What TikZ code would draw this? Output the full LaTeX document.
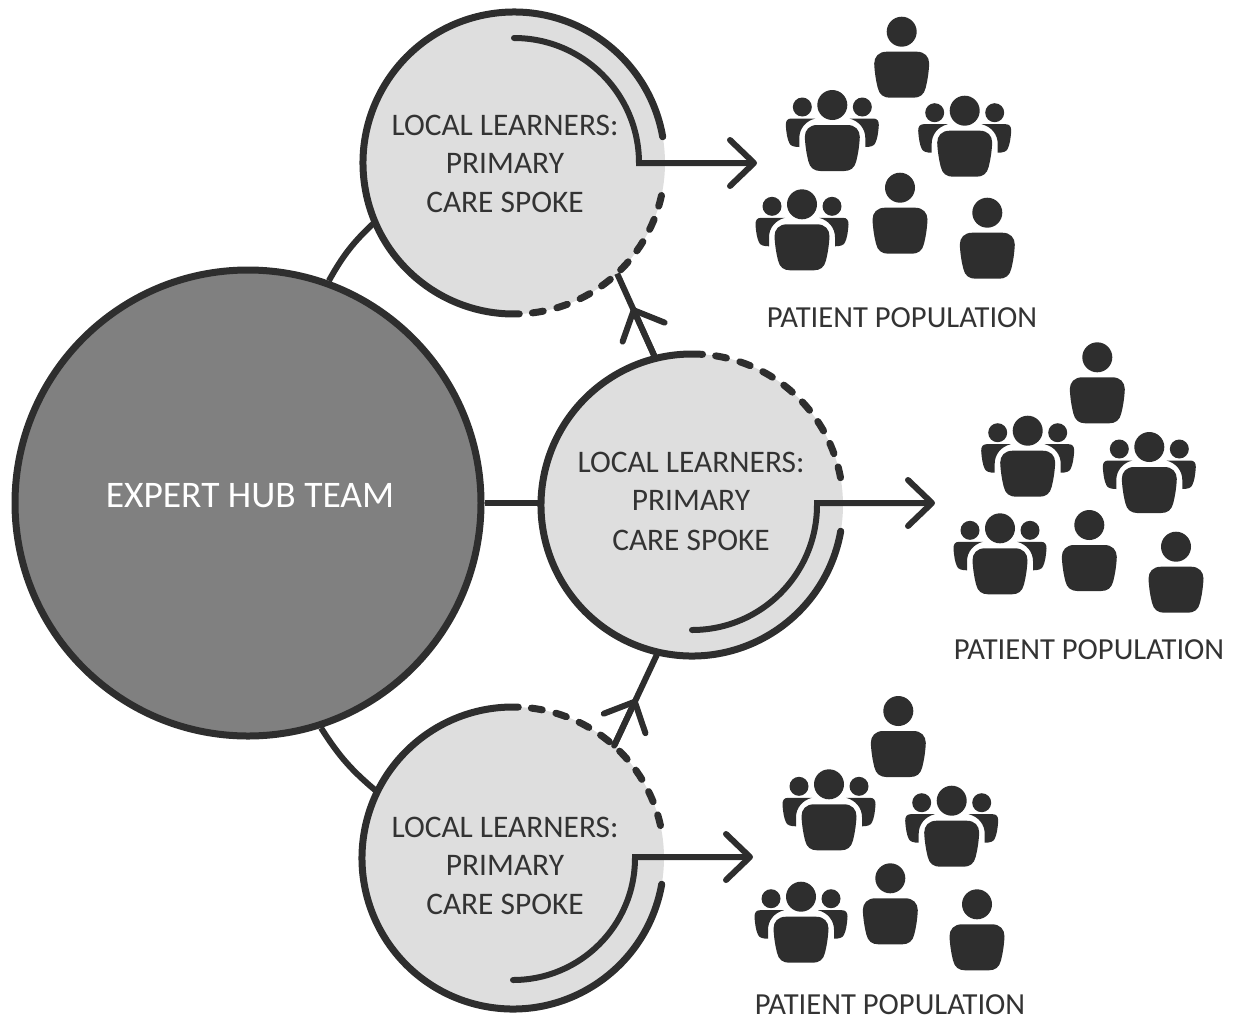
\documentclass[tikz,border=0pt]{standalone}
\usepackage{fontspec}
\setmainfont{Carlito}
\usetikzlibrary{arrows.meta,calc}
\definecolor{ink}{HTML}{2E2E2E}
\definecolor{spokefill}{HTML}{DEDEDE}
\definecolor{hubfill}{HTML}{808080}
\definecolor{labelink}{HTML}{333333}
\tikzset{
  x=1pt,y=-1pt,
  hubbox/.style={circle,draw=ink,line width=7pt,fill=hubfill,inner sep=0pt,minimum size=466pt},
  spokebox/.style={circle,fill=spokefill,inner sep=0pt,minimum size=302pt},
  ring/.style={draw=ink,line width=7pt,line cap=round},
  ringdash/.style={ring,dash pattern=on 11pt off 14pt},
  link/.style={draw=ink,line width=6pt},
  barb/.style={draw=ink,line width=6pt,line cap=round,-{Straight Barb[length=24pt,width=46pt,round]}},
  spoketext/.style={font=\fontsize{31.4}{36}\selectfont,text=labelink,inner sep=0pt},
  poptext/.style={font=\fontsize{30.6}{36}\selectfont,text=labelink,inner sep=0pt},
  hubtext/.style={font=\fontsize{37.5}{44}\selectfont,text=white,inner sep=0pt},
  bodyshape/.pic={\fill[ink] (-15,20) -- (15,20) .. controls (23,20) and (27.5,25) .. (27.5,32) .. controls (27,42) and (25.5,50) .. (24,56) .. controls (22.5,63) and (18,66) .. (12,66) -- (-12,66) .. controls (-18,66) and (-22.5,63) .. (-24,56) .. controls (-25.5,50) and (-27,42) .. (-27.5,32) .. controls (-27.5,25) and (-23,20) .. (-15,20) -- cycle;},
  person/.pic={\fill[ink] (0,0) circle[radius=15]; \pic {bodyshape};},
  crowd/.pic={
    \fill[ink] (0,0) circle[radius=15];
    \fill[ink] (-30,2) circle[radius=9.5];
    \fill[ink] (30,2) circle[radius=9.5];
    \fill[ink] (-17,13.5) -- (-41,13.5) .. controls (-45,13.5) and (-46.5,16) .. (-46.5,20) .. controls (-46,28) and (-45,34) .. (-43,38) .. controls (-42,41) and (-38,42) .. (-33,42) -- (-33,33) .. controls (-33,24) and (-27,16) .. (-17,13.5) -- cycle;
    \fill[ink] (17,13.5) -- (41,13.5) .. controls (45,13.5) and (46.5,16) .. (46.5,20) .. controls (46,28) and (45,34) .. (43,38) .. controls (42,41) and (38,42) .. (33,42) -- (33,33) .. controls (33,24) and (27,16) .. (17,13.5) -- cycle;
    \pic {bodyshape};
  },
}
\begin{document}
\begin{tikzpicture}
\useasboundingbox (0,0) rectangle (1243,1021);
\node[hubbox] (hub) at (248,503) {};
\node[spokebox] (top) at (514,163) {};
\node[spokebox] (mid) at (692,505) {};
\node[spokebox] (bot) at (513,858) {};
\draw[link] (hub.70.5) to[bend left=9] (top.203.5);
\draw[link] (hub.0) -- (mid.west |- hub.0);
\draw[link] (hub.-72) to[bend right=9] (bot.154);
% top spoke rings
\draw[ring] ([shift={(-10:151)}]top.center) arc[start angle=-10,end angle=-272,radius=151];
\draw[ringdash] ([shift={(-277:151)}]top.center) arc[start angle=-277,end angle=-350,radius=151];
% mid spoke rings
\draw[ringdash] ([shift={(-81:151)}]mid.center) arc[start angle=-81,end angle=-10,radius=151];
\draw[ring] ([shift={(10:151)}]mid.center) arc[start angle=10,end angle=274,radius=151];
% bottom spoke rings
\draw[ringdash] ([shift={(-83:151)}]bot.center) arc[start angle=-83,end angle=-10,radius=151];
\draw[ring] ([shift={(10:151)}]bot.center) arc[start angle=10,end angle=272,radius=151];
% outgoing arrows
\coordinate (toptip) at (757,163);
\coordinate (midtip) at (935,503);
\coordinate (bottip) at (753,857);
\draw[barb] ([shift={(-90:125)}]top.center) arc[start angle=-90,end angle=0,radius=125] -- (toptip);
\draw[barb] ([shift={(90:125)}]mid.center) arc[start angle=90,end angle=0,radius=125] |- (midtip);
\draw[barb] ([shift={(90:122)}]bot.center) arc[start angle=90,end angle=0,radius=122] |- (bottip);
% spoke-to-spoke arrows
\draw[link] (mid.104) -- (top.-47);
\draw[barb] (mid.104) -- ($(mid.104)!0.6!(top.-47)$);
\draw[link] (mid.-103) -- (bot.48);
\draw[barb] (bot.48) -- ($(bot.48)!0.5!(mid.-103)$);
% labels
\node[hubtext] (hublabel) at (250,496) {EXPERT HUB TEAM};
\node[spoketext] (t1) at (505,125) {LOCAL LEARNERS:};
\node[spoketext] (t2) at (505,163) {PRIMARY};
\node[spoketext] (t3) at (505,202) {CARE SPOKE};
\node[spoketext] (m1) at (691,462) {LOCAL LEARNERS:};
\node[spoketext] (m2) at (691,500) {PRIMARY};
\node[spoketext] (m3) at (691,540) {CARE SPOKE};
\node[spoketext] (b1) at (505,827) {LOCAL LEARNERS:};
\node[spoketext] (b2) at (505,865) {PRIMARY};
\node[spoketext] (b3) at (505,904) {CARE SPOKE};
\node[poptext] (p1) at (902,318) {PATIENT POPULATION};
\node[poptext] (p2) at (1089,650) {PATIENT POPULATION};
\node[poptext] (p3) at (890,1005) {PATIENT POPULATION};
% top population
\pic at (901.7,31.7) {person};
\pic at (900,187.7) {person};
\pic at (987.3,212.7) {person};
\pic at (832.3,105) {crowd};
\pic at (964.7,110.7) {crowd};
\pic at (802,204.3) {crowd};
% middle population
\pic at (1097.3,357.3) {person};
\pic at (1089.3,525) {person};
\pic at (1176,546.7) {person};
\pic at (1027.7,430.7) {crowd};
\pic at (1149.3,447) {crowd};
\pic at (1000,528.3) {crowd};
% bottom population
\pic at (898.3,711) {person};
\pic at (890.3,878.3) {person};
\pic at (977,904.3) {person};
\pic at (829,784.3) {crowd};
\pic at (951.7,800.7) {crowd};
\pic at (801,896.7) {crowd};
\end{tikzpicture}
\end{document}
